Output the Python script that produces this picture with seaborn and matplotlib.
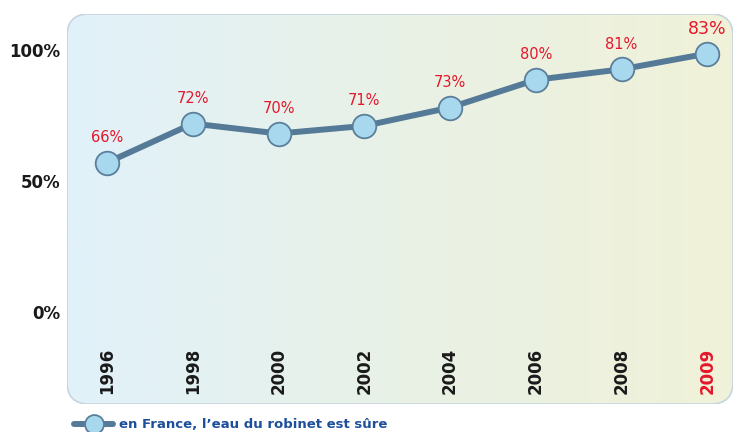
import numpy as np
import pandas as pd
import matplotlib
matplotlib.use("Agg")
import matplotlib.pyplot as plt
from matplotlib.patches import FancyBboxPatch
from matplotlib.colors import LinearSegmentedColormap
import seaborn as sns

# data
years = ["1996", "1998", "2000", "2002", "2004", "2006", "2008", "2009"]
# height of each point against the 0-100% axis (as drawn)
level = [57.0, 71.9, 68.1, 71.0, 78.0, 88.6, 92.6, 98.6]
# printed value above each point
pct_label = [66, 72, 70, 71, 73, 80, 81, 83]
ytick_vals = [0, 50, 100]
series_name = "en France, l\u2019eau du robinet est sûre"

line_col = "#557a97"
dot_fill = "#a7d8ee"
dot_edge = "#5b7f9b"
red = "#e5172a"

sns.set_theme(style="white")
plt.rcParams["font.family"] = ["DejaVu Sans"]

df = pd.DataFrame({"year": years, "level": level, "pos": range(len(years))})

fig = plt.figure(figsize=(7.37, 4.32), dpi=100)
ax = fig.add_axes([67/737, 1 - 404/432, 666/737, 390/432])

# rounded panel with left->right gradient
panel = FancyBboxPatch((0, 0), 1, 1, boxstyle="round,pad=0,rounding_size=0.033",
                       mutation_aspect=666/390, transform=ax.transAxes,
                       facecolor="none", edgecolor="#c6d5df", lw=1.2, zorder=1)
ax.add_patch(panel)
cmap = LinearSegmentedColormap.from_list("bg", ["#e1f1fa", "#e9f1e6", "#f0f2d8"])
grad = ax.imshow(np.linspace(0, 1, 256).reshape(1, -1), cmap=cmap, aspect="auto",
                 extent=[0, 1, 0, 1], transform=ax.transAxes, zorder=0)
grad.set_clip_path(panel)

sns.lineplot(data=df, x="pos", y="level", ax=ax, color=line_col, lw=4.3,
             marker="o", markersize=17, markerfacecolor=dot_fill,
             markeredgecolor=dot_edge, markeredgewidth=1.3, zorder=3,
             label=series_name, legend=False)

for i, (y, v) in enumerate(zip(level, pct_label)):
    last = i == len(years) - 1
    ax.annotate(f"{v}%", (i, y), xytext=(0, 18), textcoords="offset points",
                ha="center", va="center", color=red,
                fontsize=12.5 if last else 10.5)
    ax.text(i, -22.5, years[i], rotation=90, ha="center", va="center",
            fontsize=12, fontweight="bold", color=red if last else "#1a1a1a")

ax.set_xlim(-0.467, 7.30)
ax.set_ylim(-35.1, 113.7)
ax.set_xticks([])
ax.set_yticks(ytick_vals)
ax.set_yticklabels([f"{t}%" for t in ytick_vals], fontsize=12, fontweight="bold",
                   color="#1a1a1a")
ax.tick_params(axis="y", length=0, pad=5)
ax.set_xlabel("")
ax.set_ylabel("")
for s in ax.spines.values():
    s.set_visible(False)
ax.patch.set_visible(False)

h, l = ax.get_legend_handles_labels()
leg = fig.legend(h, l, loc="center left", bbox_to_anchor=(62/737, 1 - 425/432),
                 frameon=False, handlelength=3.0, markerscale=0.8,
                 prop={"size": 9.5, "weight": "bold"}, labelcolor="#1d4f9b",
                 handletextpad=0.4)

fig.savefig("out.png", dpi=100)
